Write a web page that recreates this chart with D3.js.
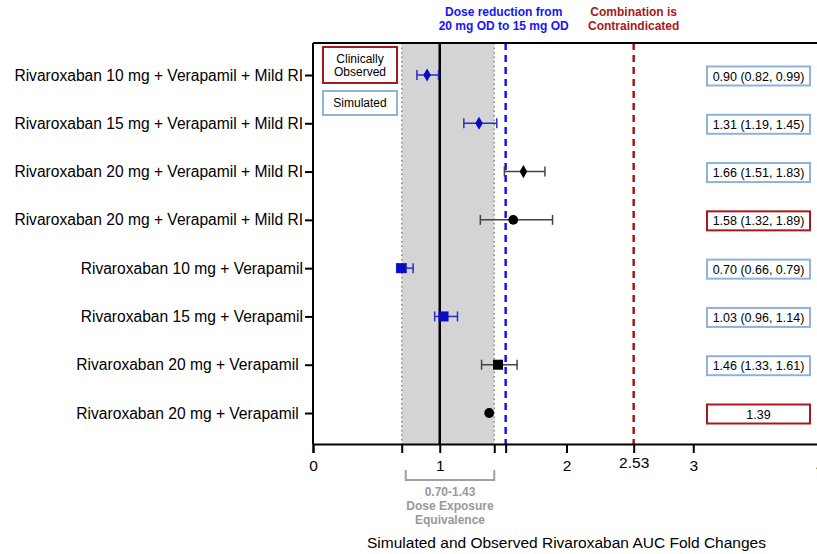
<!DOCTYPE html>
<html><head><meta charset="utf-8">
<script src="https://cdn.jsdelivr.net/npm/d3@7"></script>
<style>body{margin:0;background:#fff}svg{display:block;font-family:"Liberation Sans",Arial,sans-serif}</style>
</head><body><svg id="c" width="817" height="554"></svg>
<script>
const labels = [
  "Rivaroxaban 10 mg + Verapamil + Mild RI",
  "Rivaroxaban 15 mg + Verapamil + Mild RI",
  "Rivaroxaban 20 mg + Verapamil + Mild RI",
  "Rivaroxaban 20 mg + Verapamil + Mild RI",
  "Rivaroxaban 10 mg + Verapamil",
  "Rivaroxaban 15 mg + Verapamil",
  "Rivaroxaban 20 mg + Verapamil ",
  "Rivaroxaban 20 mg + Verapamil "
];
const estimates = [0.90, 1.31, 1.66, 1.58, 0.70, 1.03, 1.46, 1.39];
const lowerCI   = [0.82, 1.19, 1.51, 1.32, 0.66, 0.96, 1.33, null];
const upperCI   = [0.99, 1.45, 1.83, 1.89, 0.79, 1.14, 1.61, null];
const source    = ["Simulated","Simulated","Simulated","Clinically Observed","Simulated","Simulated","Simulated","Clinically Observed"];
const markers   = ["diamond","diamond","diamond","circle","square","square","square","circle"];
const markerColors = ["blue","blue","black","black","blue","blue","black","black"];
const boxTexts  = ["0.90 (0.82, 0.99)","1.31 (1.19, 1.45)","1.66 (1.51, 1.83)","1.58 (1.32, 1.89)","0.70 (0.66, 0.79)","1.03 (0.96, 1.14)","1.46 (1.33, 1.61)","1.39"];
const xTickValues = [0, 0.70, 1, 1.43, 1.52, 2, 2.53, 3, 4];
const xTickLabels = {0:"0",1:"1",2:"2",2.53:"2.53",3:"3",4:"4"};
const equivRange = [0.70, 1.43];
const doseReductionLine = 1.52;
const contraLine = 2.53;

const svg = d3.select("#c");
const L = 313, R = 820, T = 43, B = 444;
const x = d3.scaleLinear().domain([0,4]).range([L, R]);
const y = d3.scalePoint().domain(d3.range(labels.length)).range([75, 413]);
const BLUE = "#0a0ac8", EBLUE = "#2b2bcc", RED = "#a8181c", LBLUE = "#8fb1da", GRAY = "#a0a0a0";

// shaded equivalence region
svg.append("rect").attr("x", x(equivRange[0])).attr("y", T).attr("width", x(equivRange[1]) - x(equivRange[0])).attr("height", B - T).attr("fill", "#d4d4d4");
equivRange.forEach(v => svg.append("line").attr("x1", x(v)).attr("x2", x(v)).attr("y1", T).attr("y2", B)
  .attr("stroke", "#8a8a8a").attr("stroke-width", 1.5).attr("stroke-dasharray", "1.5,3"));
// line at 1
svg.append("line").attr("x1", x(1)).attr("x2", x(1)).attr("y1", T).attr("y2", B).attr("stroke", "#000").attr("stroke-width", 2.5);
// dashed lines
svg.append("line").attr("x1", x(doseReductionLine)).attr("x2", x(doseReductionLine)).attr("y1", T).attr("y2", B)
  .attr("stroke", "#1414ff").attr("stroke-width", 2.5).attr("stroke-dasharray", "7,5");
svg.append("line").attr("x1", x(contraLine)).attr("x2", x(contraLine)).attr("y1", T).attr("y2", B)
  .attr("stroke", RED).attr("stroke-width", 2.5).attr("stroke-dasharray", "7,5");

// top border
svg.append("line").attr("x1", L).attr("x2", R).attr("y1", T).attr("y2", T).attr("stroke", "#000").attr("stroke-width", 2);

// axes
const xAxis = d3.axisBottom(x).tickValues(xTickValues).tickSize(9).tickFormat(d => xTickLabels[d] !== undefined ? xTickLabels[d] : "");
const gx = svg.append("g").attr("transform", `translate(0,${B})`).call(xAxis);
gx.select(".domain").attr("stroke-width", 2).attr("stroke", "#000");
gx.selectAll(".tick line").attr("stroke-width", 2);
gx.selectAll(".tick text").attr("font-size", 15.5).attr("font-family", "Liberation Sans, Arial, sans-serif").attr("fill", "#000").attr("dy", "0.95em")
  .attr("transform", d => d === 2.53 ? "translate(0,-3)" : null);

const yAxis = d3.axisLeft(y).tickSize(8).tickFormat(i => labels[i]);
const gy = svg.append("g").attr("transform", `translate(${L},0)`).call(yAxis);
gy.select(".domain").attr("d", `M0,${T}V${B}`).attr("stroke-width", 2).attr("stroke", "#000");
gy.selectAll(".tick line").attr("stroke-width", 2);
gy.selectAll(".tick text").attr("font-size", 15.6).attr("font-family", "Liberation Sans, Arial, sans-serif").attr("fill", "#000").attr("x", -10).style("white-space", "pre");

// error bars
const rows = d3.range(labels.length);
const eb = svg.append("g");
rows.filter(i => lowerCI[i] !== null).forEach(i => {
  const c = markerColors[i] === "blue" ? EBLUE : "#444";
  const yy = y(i);
  eb.append("line").attr("x1", x(lowerCI[i])).attr("x2", x(upperCI[i])).attr("y1", yy).attr("y2", yy).attr("stroke", c).attr("stroke-width", 1.5);
  [lowerCI[i], upperCI[i]].forEach(v => eb.append("line").attr("x1", x(v)).attr("x2", x(v)).attr("y1", yy - 5).attr("y2", yy + 5).attr("stroke", c).attr("stroke-width", 1.5));
});

// markers
const symMap = {diamond: d3.symbolDiamond, circle: d3.symbolCircle, square: d3.symbolSquare};
const sizeMap = {diamond: 50, circle: 75, square: 100};
svg.append("g").selectAll("path").data(rows).join("path")
  .attr("transform", i => `translate(${x(estimates[i])},${y(i)})`)
  .attr("d", i => d3.symbol().type(symMap[markers[i]]).size(sizeMap[markers[i]])())
  .attr("fill", i => markerColors[i] === "blue" ? BLUE : "#000");

// right value boxes
const bx = 707, bw = 103, bh = 19;
const boxes = svg.append("g").selectAll("g").data(rows).join("g").attr("transform", i => `translate(0,${y(i) + 1})`);
boxes.append("rect").attr("x", bx).attr("y", -bh / 2).attr("width", bw).attr("height", bh).attr("fill", "#fff")
  .attr("stroke", i => source[i] === "Simulated" ? LBLUE : RED).attr("stroke-width", 2);
boxes.append("text").attr("x", bx + bw / 2).attr("y", 0).attr("dy", "0.36em").attr("text-anchor", "middle").attr("font-size", 12.5).text(i => boxTexts[i]);

// legend
const leg = svg.append("g");
leg.append("rect").attr("x", 323).attr("y", 47).attr("width", 74).attr("height", 36).attr("fill", "#fff").attr("stroke", RED).attr("stroke-width", 2);
leg.append("text").attr("x", 360).attr("y", 62.5).attr("text-anchor", "middle").attr("font-size", 12).text("Clinically");
leg.append("text").attr("x", 360).attr("y", 76).attr("text-anchor", "middle").attr("font-size", 12).text("Observed");
leg.append("rect").attr("x", 323).attr("y", 91).attr("width", 74).attr("height", 24).attr("fill", "#fff").attr("stroke", LBLUE).attr("stroke-width", 2);
leg.append("text").attr("x", 360).attr("y", 106.5).attr("text-anchor", "middle").attr("font-size", 12).text("Simulated");

// top annotations
const ann = svg.append("g").attr("font-weight", "bold").attr("font-size", 12).attr("text-anchor", "middle");
ann.append("text").attr("x", x(doseReductionLine) - 2).attr("y", 16).attr("fill", "#1414ff").text("Dose reduction from");
ann.append("text").attr("x", x(doseReductionLine) - 2).attr("y", 30).attr("fill", "#1414ff").text("20 mg OD to 15 mg OD");
ann.append("text").attr("x", x(contraLine)).attr("y", 16).attr("fill", RED).text("Combination is");
ann.append("text").attr("x", x(contraLine)).attr("y", 30).attr("fill", RED).text("Contraindicated");

// bracket
const bl = x(equivRange[0]) + 4, br = x(equivRange[1]);
svg.append("path").attr("d", `M${bl},470V480H${br}V470`).attr("fill", "none").attr("stroke", GRAY).attr("stroke-width", 2);
const bt = svg.append("g").attr("font-weight", "bold").attr("font-size", 12).attr("fill", "#999").attr("text-anchor", "middle");
const bc = (bl + br) / 2;
bt.append("text").attr("x", bc).attr("y", 496).text("0.70-1.43");
bt.append("text").attr("x", bc).attr("y", 510).text("Dose Exposure");
bt.append("text").attr("x", bc).attr("y", 524).text("Equivalence");

// x title
svg.append("text").attr("x", (L + R) / 2).attr("y", 548).attr("text-anchor", "middle").attr("font-size", 15.5).text("Simulated and Observed Rivaroxaban AUC Fold Changes");
</script></body></html>
